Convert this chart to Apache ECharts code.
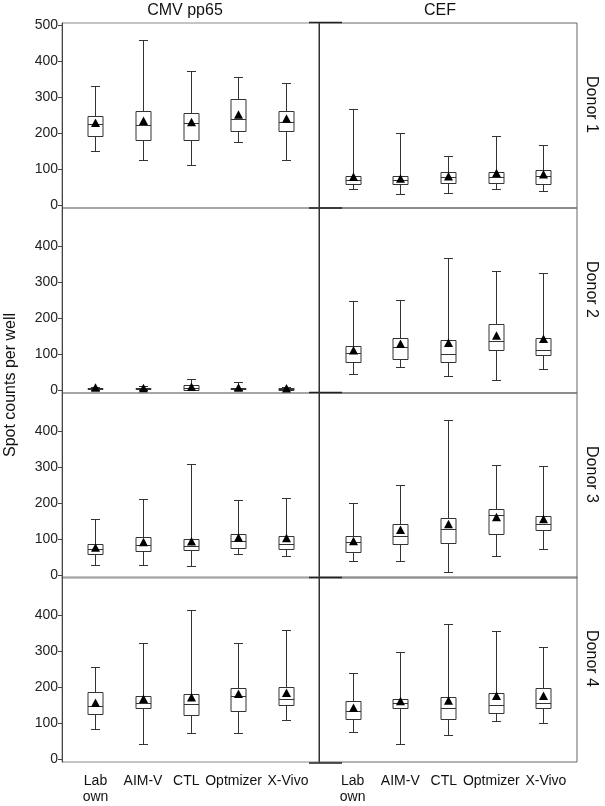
<!DOCTYPE html>
<html>
<head>
<meta charset="utf-8">
<script src="https://cdn.jsdelivr.net/npm/echarts@6/dist/echarts.min.js"></script>
<style>
html,body{margin:0;padding:0;background:#fff;}
#chart{width:605px;height:806px;}
</style>
</head>
<body>
<div id="chart"></div>
<script>
// Categories (culture media)
const categories = ['Lab\nown', 'AIM-V', 'CTL', 'Optmizer', 'X-Vivo'];
const columnTitles = ['CMV pp65', 'CEF'];
const donorLabels = ['Donor 1', 'Donor 2', 'Donor 3', 'Donor 4'];
const yTicksFirstRow = [0, 100, 200, 300, 400, 500];
const yTicksOtherRows = [0, 100, 200, 300, 400];

// Each row: [min, q1, median, q3, max, mean]
const cmvDonor1 = [[151,193,226,247,333,227],[126,182,222,261,460,233],[111,182,228,257,372,229],[176,207,240,296,358,250],[127,207,231,263,340,239]];
const cefDonor1 = [[44,60,70,80,267,77],[31,58,70,82,202,72],[35,62,79,91,136,78],[44,62,79,91,193,87],[38,58,81,99,167,84]];
const cmvDonor2 = [[0,2,4,7,9,5],[0,2,4,6,11,4],[0,1,5,14,32,7],[0,2,4,7,23,5],[0,1,3,5,9,3]];
const cefDonor2 = [[46,77,104,124,249,109],[64,87,119,146,252,127],[38,77,101,139,367,130],[28,113,136,185,332,150],[60,98,113,144,325,141]];
const cmvDonor3 = [[29,60,74,88,156,75],[29,66,83,106,212,90],[26,69,81,101,308,92],[60,75,94,115,208,103],[54,74,87,110,216,101]];
const cefDonor3 = [[39,63,91,108,201,93],[40,87,110,142,251,124],[10,90,128,160,431,140],[53,115,167,185,306,160],[72,125,142,164,304,154]];
const cmvDonor4 = [[85,127,148,187,256,155],[41,143,155,177,322,166],[74,123,153,180,416,170],[74,133,175,197,322,180],[110,150,168,202,359,183]];
const cefDonor4 = [[75,113,133,161,239,141],[43,142,155,167,299,160],[66,112,142,172,375,161],[106,129,152,183,358,174],[101,143,157,198,311,174]];

const panels = [
  [cmvDonor1, cefDonor1],
  [cmvDonor2, cefDonor2],
  [cmvDonor3, cefDonor3],
  [cmvDonor4, cefDonor4]
];

const FONT = '"Liberation Sans", Arial, Helvetica, sans-serif';
const rowTops = [23, 208, 393, 577];
const rowH = 185;
const colLeft = [62, 319];
const colW = [257, 258];

const grids = [], xAxes = [], yAxes = [], series = [];

function renderBox(params, api) {
  const x = api.value(0);
  const pMin = api.coord([x, api.value(1)]);
  const pQ1 = api.coord([x, api.value(2)]);
  const pMed = api.coord([x, api.value(3)]);
  const pQ3 = api.coord([x, api.value(4)]);
  const pMax = api.coord([x, api.value(5)]);
  const pMean = api.coord([x, api.value(6)]);
  const cx = Math.round(pMin[0]) + 0.5;
  const bw = 7.5, cw = 4.5;
  const r = v => Math.round(v) + 0.5;
  const st = {stroke: '#333', lineWidth: 1, fill: null};
  const children = [
    {type: 'line', shape: {x1: cx - cw, y1: r(pMax[1]), x2: cx + cw, y2: r(pMax[1])}, style: st},
    {type: 'line', shape: {x1: cx, y1: r(pMax[1]), x2: cx, y2: r(pQ3[1])}, style: st},
    {type: 'rect', shape: {x: cx - bw, y: r(pQ3[1]), width: bw * 2, height: r(pQ1[1]) - r(pQ3[1])}, style: {stroke: '#333', lineWidth: 1, fill: '#fff'}},
    {type: 'line', shape: {x1: cx - bw, y1: r(pMed[1]), x2: cx + bw, y2: r(pMed[1])}, style: st},
    {type: 'line', shape: {x1: cx, y1: r(pQ1[1]), x2: cx, y2: r(pMin[1])}, style: st},
    {type: 'line', shape: {x1: cx - cw, y1: r(pMin[1]), x2: cx + cw, y2: r(pMin[1])}, style: st},
    {type: 'polygon', shape: {points: [[cx, pMean[1] - 5], [cx - 4.5, pMean[1] + 3.5], [cx + 4.5, pMean[1] + 3.5]]}, style: {fill: '#000', stroke: null}}
  ];
  return {type: 'group', children: children};
}

function catLabel(v) {
  const i = Math.round(v) - 1;
  const t = categories[i];
  if (i === 2) return '{ct|' + t + '}';
  if (i === 3) return '{o|' + t + '}';
  if (i === 4) return '{xv|' + t + '}';
  return t;
}

let idx = 0;
for (let r = 0; r < 4; r++) {
  for (let c = 0; c < 2; c++) {
    grids.push({
      left: colLeft[c], top: rowTops[r], width: colW[c], height: rowH,
      show: true, borderColor: c === 1 ? '#666' : '#888', borderWidth: 1, backgroundColor: 'transparent'
    });
    const isBottom = r === 3;
    xAxes.push({
      type: 'value', gridIndex: idx, min: 0.295, max: 5.705,
      axisLine: {show: false}, axisTick: {show: false}, splitLine: {show: false},
      axisLabel: {
        show: isBottom, customValues: [1, 2, 3, 4, 5], hideOverlap: false,
        showMinLabel: true, showMaxLabel: true,
        formatter: catLabel,
        fontFamily: FONT, fontSize: 14, lineHeight: 16, color: '#111', margin: 11,
        rich: {
          ct: {fontFamily: FONT, fontSize: 14, color: '#111', width: 18, align: 'right'},
          o: {fontFamily: FONT, fontSize: 14, color: '#111', width: 48, align: 'right'},
          xv: {fontFamily: FONT, fontSize: 14, color: '#111', width: 36, align: 'left'}
        }
      }
    });
    const ticks = r === 0 ? yTicksFirstRow : yTicksOtherRows;
    yAxes.push({
      type: 'value', gridIndex: idx, min: -8, max: 507,
      axisLine: {show: true, lineStyle: {color: c === 0 ? '#444' : '#333', width: 1}},
      axisTick: {show: c === 0, customValues: ticks, length: 4, lineStyle: {color: '#444'}},
      splitLine: {show: false},
      axisLabel: {show: c === 0, customValues: ticks, hideOverlap: false, showMinLabel: true, showMaxLabel: true, fontFamily: FONT, fontSize: 14, color: '#222', margin: 4}
    });
    series.push({
      type: 'custom', xAxisIndex: idx, yAxisIndex: idx,
      renderItem: renderBox,
      data: panels[r][c].map((d, i) => [i + 1].concat(d)),
      clip: false, silent: true
    });
    idx++;
  }
}

const graphics = [];
graphics.push({type: 'text', x: 185, y: 11, style: {text: columnTitles[0], font: '16px ' + FONT, fill: '#111', textAlign: 'center', textVerticalAlign: 'middle'}});
graphics.push({type: 'text', x: 440, y: 11, style: {text: columnTitles[1], font: '16px ' + FONT, fill: '#111', textAlign: 'center', textVerticalAlign: 'middle'}});
graphics.push({type: 'text', x: 11, y: 385, rotation: Math.PI / 2, style: {text: 'Spot counts per well', font: '16px ' + FONT, fill: '#111', textAlign: 'center', textVerticalAlign: 'middle'}});
for (let r = 0; r < 4; r++) {
  graphics.push({type: 'text', x: 591, y: rowTops[r] + rowH / 2 - 11, rotation: -Math.PI / 2, style: {text: donorLabels[r], font: '16px ' + FONT, fill: '#111', textAlign: 'center', textVerticalAlign: 'middle'}});
}
// separator tick marks between panel columns
const sepY = [22.5, 208, 392.5, 577.5, 763];
sepY.forEach(y => {
  graphics.push({type: 'line', shape: {x1: 309, y1: y, x2: 342, y2: y}, style: {stroke: '#222', lineWidth: 1.5}});
});

const chart = echarts.init(document.getElementById('chart'), null, {renderer: 'canvas'});
chart.setOption({
  animation: false,
  backgroundColor: '#fff',
  grid: grids,
  xAxis: xAxes,
  yAxis: yAxes,
  series: series,
  graphic: graphics
});
</script>
</body>
</html>
